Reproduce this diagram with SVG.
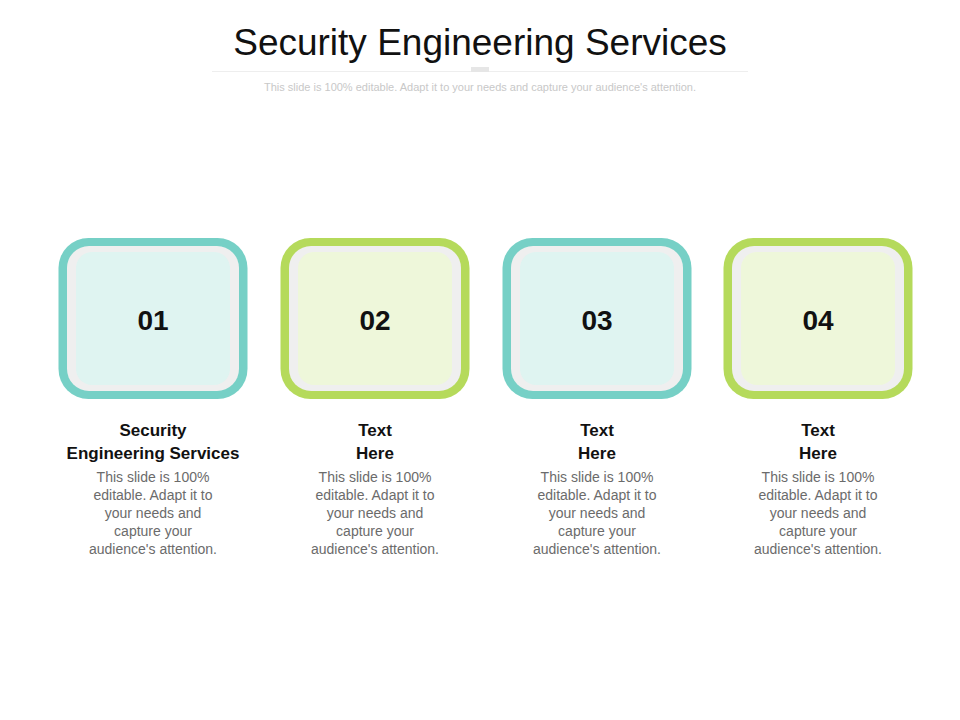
<svg xmlns="http://www.w3.org/2000/svg" width="960" height="720" viewBox="0 0 960 720">
<style>
.t{font-family:"Liberation Sans",Arial,sans-serif;text-anchor:middle}
.num{font-size:28px;font-weight:bold;fill:#111}
.hd{font-size:17px;font-weight:bold;fill:#111}
.bd{font-size:14px;fill:#6b6b6b}
.mid{fill:#efefef}
</style>
<rect width="960" height="720" fill="#fff"/>
<text class="t" x="480" y="55" font-size="37" fill="#111">Security Engineering Services</text>
<line x1="212" y1="71.5" x2="748" y2="71.5" stroke="#eee"/>
<rect x="471" y="67" width="18" height="5" fill="#e6e6e6"/>
<text class="t" x="480" y="91" font-size="11" fill="#c8c8c8">This slide is 100% editable. Adapt it to your needs and capture your audience's attention.</text>
<g id="n1" transform="translate(153,0)">
<rect x="-94.5" y="238" width="189" height="161" rx="30" fill="#76d0c6"/>
<rect x="-86" y="246" width="172" height="145" rx="22" class="mid"/>
<rect x="-77" y="252" width="154" height="133" rx="16" fill="#dff4f1"/>
<text class="t num" x="0" y="330">01</text>
<text class="t hd" x="0" y="436">Security</text><text class="t hd" x="0" y="459">Engineering Services</text>
<text class="t bd" x="0" y="482">This slide is 100%</text><text class="t bd" x="0" y="500">editable. Adapt it to</text><text class="t bd" x="0" y="518">your needs and</text><text class="t bd" x="0" y="536">capture your</text><text class="t bd" x="0" y="554">audience's attention.</text>
</g>
<g id="n2" transform="translate(375,0)">
<rect x="-94.5" y="238" width="189" height="161" rx="30" fill="#b5da5b"/>
<rect x="-86" y="246" width="172" height="145" rx="22" class="mid"/>
<rect x="-77" y="252" width="154" height="133" rx="16" fill="#eef7da"/>
<text class="t num" x="0" y="330">02</text>
<text class="t hd" x="0" y="436">Text</text><text class="t hd" x="0" y="459">Here</text>
<text class="t bd" x="0" y="482">This slide is 100%</text><text class="t bd" x="0" y="500">editable. Adapt it to</text><text class="t bd" x="0" y="518">your needs and</text><text class="t bd" x="0" y="536">capture your</text><text class="t bd" x="0" y="554">audience's attention.</text>
</g>
<g id="n3" transform="translate(597,0)">
<rect x="-94.5" y="238" width="189" height="161" rx="30" fill="#76d0c6"/>
<rect x="-86" y="246" width="172" height="145" rx="22" class="mid"/>
<rect x="-77" y="252" width="154" height="133" rx="16" fill="#dff4f1"/>
<text class="t num" x="0" y="330">03</text>
<text class="t hd" x="0" y="436">Text</text><text class="t hd" x="0" y="459">Here</text>
<text class="t bd" x="0" y="482">This slide is 100%</text><text class="t bd" x="0" y="500">editable. Adapt it to</text><text class="t bd" x="0" y="518">your needs and</text><text class="t bd" x="0" y="536">capture your</text><text class="t bd" x="0" y="554">audience's attention.</text>
</g>
<g id="n4" transform="translate(818,0)">
<rect x="-94.5" y="238" width="189" height="161" rx="30" fill="#b5da5b"/>
<rect x="-86" y="246" width="172" height="145" rx="22" class="mid"/>
<rect x="-77" y="252" width="154" height="133" rx="16" fill="#eef7da"/>
<text class="t num" x="0" y="330">04</text>
<text class="t hd" x="0" y="436">Text</text><text class="t hd" x="0" y="459">Here</text>
<text class="t bd" x="0" y="482">This slide is 100%</text><text class="t bd" x="0" y="500">editable. Adapt it to</text><text class="t bd" x="0" y="518">your needs and</text><text class="t bd" x="0" y="536">capture your</text><text class="t bd" x="0" y="554">audience's attention.</text>
</g>
<g id="connectors"/>
</svg>
